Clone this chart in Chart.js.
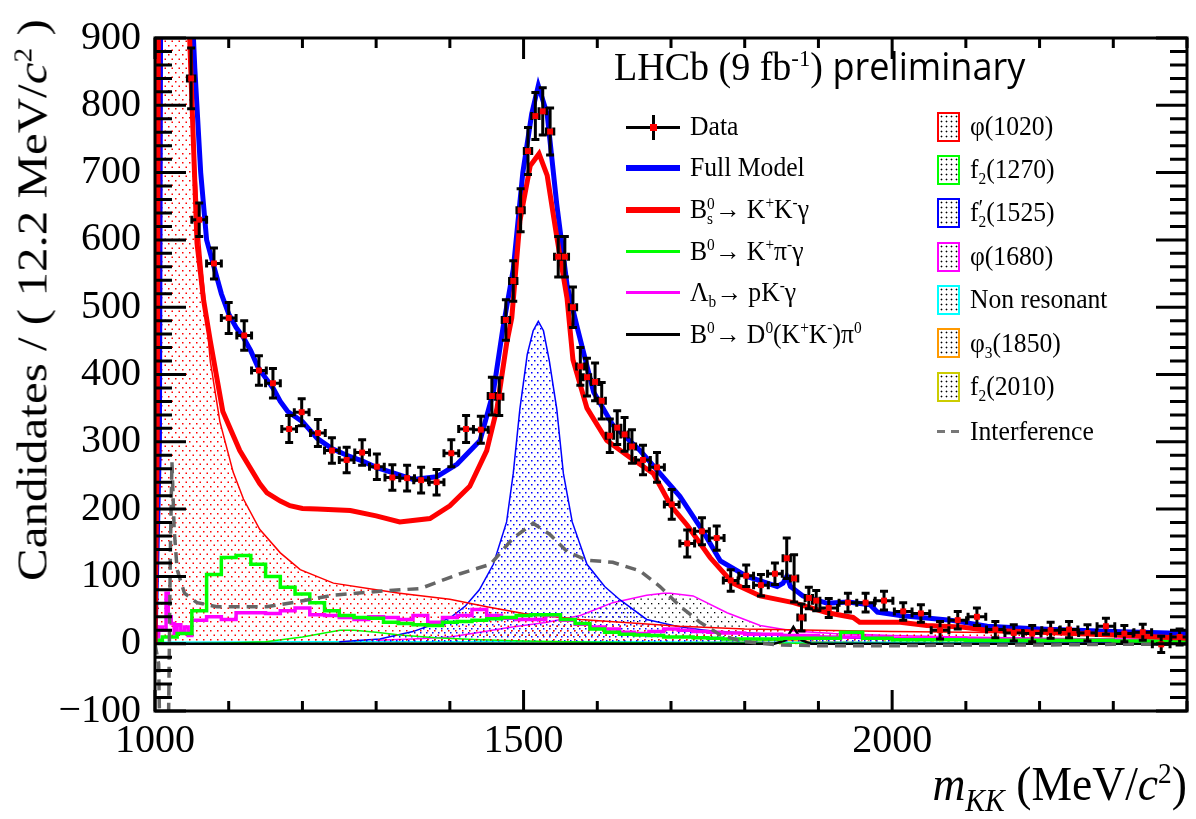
<!DOCTYPE html>
<html>
<head>
<meta charset="utf-8">
<script src="https://cdn.jsdelivr.net/npm/chart.js@4.4.1/dist/chart.umd.min.js"></script>
<style>
  body { margin: 0; background: #fff; }
  #wrap { position: relative; width: 1196px; height: 819px; font-family: "Liberation Serif", "Times New Roman", serif; color: #000; }
  #c { position: absolute; left: 0; top: 0; }
  .t { position: absolute; white-space: nowrap; line-height: 1; transform-origin: 0 0; }
  .leg { font-size: 27px; transform: scaleX(0.95); }
  .ss { display: inline-block; vertical-align: -0.4em; font-size: 0.6em; line-height: 0.95; }
  .ss b { display: block; font-weight: normal; }
  sup { font-size: 0.6em; vertical-align: 0.6em; line-height: 0; }
  .ln { position: absolute; left: 626px; width: 54px; }
  .box { position: absolute; left: 937px; width: 19px; height: 26px; border: 2px solid;
         background-image: radial-gradient(circle, #000 0.8px, transparent 1.1px); background-size: 5px 5px; }
</style>
</head>
<body>
<div id="wrap">
  <canvas id="c" width="1196" height="819"></canvas>

  <!-- experiment label -->
  <div class="t" style="left:614px; top:46px; font-size:40px; transform:scaleX(0.95)">LHCb (9 fb<sup>-1</sup>) <span style="font-family:'Open Sans',sans-serif; font-size:38px">preliminary</span></div>

  <!-- left legend column: lines -->
  <div class="ln" style="top:126px; height:3px; background:#000"></div>
  <div class="ln" style="top:115px; left:652px; width:3px; height:25px; background:#000"></div>
  <div class="ln" style="top:124px; left:650px; width:7px; height:7px; background:#f00"></div>
  <div class="ln" style="top:165px; height:6px; background:#00f"></div>
  <div class="ln" style="top:207px; height:6px; background:#f00"></div>
  <div class="ln" style="top:250px; height:3px; background:#0f0"></div>
  <div class="ln" style="top:291px; height:3px; background:#f0f"></div>
  <div class="ln" style="top:333px; height:3px; background:#000"></div>

  <div class="t leg" style="left:690px; top:113px">Data</div>
  <div class="t leg" style="left:690px; top:154px">Full Model</div>
  <div class="t leg" style="left:690px; top:196px">B<span class="ss"><b>0</b><b>s</b></span>→ K<sup>+</sup>K<sup>-</sup>γ</div>
  <div class="t leg" style="left:690px; top:238px">B<sup>0</sup>→ K<sup>+</sup>π<sup>-</sup>γ</div>
  <div class="t leg" style="left:690px; top:279px">Λ<span class="ss"><b>&nbsp;</b><b>b</b></span>→ pK<sup>-</sup>γ</div>
  <div class="t leg" style="left:690px; top:321px">B<sup>0</sup>→ D<sup>0</sup>(K<sup>+</sup>K<sup>-</sup>)π<sup>0</sup></div>

  <!-- right legend column: filled components -->
  <div class="box" style="top:112px; border-color:#f00"></div>
  <div class="box" style="top:155px; border-color:#0f0"></div>
  <div class="box" style="top:198px; border-color:#00f"></div>
  <div class="box" style="top:242px; border-color:#f0f"></div>
  <div class="box" style="top:285px; border-color:#0ff"></div>
  <div class="box" style="top:328px; border-color:#f90"></div>
  <div class="box" style="top:372px; border-color:#cc0"></div>
  <div class="ln" style="top:430px; left:937px; width:8px; height:3px; background:#777"></div>
  <div class="ln" style="top:430px; left:951px; width:8px; height:3px; background:#777"></div>

  <div class="t leg" style="left:970px; top:113px">φ(1020)</div>
  <div class="t leg" style="left:970px; top:156px">f<span class="ss"><b>&nbsp;</b><b>2</b></span>(1270)</div>
  <div class="t leg" style="left:970px; top:199px">f<span class="ss"><b style="font-size:1.4em; line-height:0.7">′</b><b>2</b></span>(1525)</div>
  <div class="t leg" style="left:970px; top:243px">φ(1680)</div>
  <div class="t leg" style="left:970px; top:286px">Non resonant</div>
  <div class="t leg" style="left:970px; top:330px">φ<span class="ss"><b>&nbsp;</b><b>3</b></span>(1850)</div>
  <div class="t leg" style="left:970px; top:373px">f<span class="ss"><b>&nbsp;</b><b>2</b></span>(2010)</div>
  <div class="t leg" style="left:970px; top:418px">Interference</div>

  <!-- axis titles -->
  <div id="ytitle" class="t" style="font-size:49px">Candidates / ( 12.2 MeV/<i>c</i><sup>2</sup> )</div>
  <div id="xtitle" class="t" style="font-size:48px; right:9px; top:760px; transform-origin:100% 0; transform:scaleX(0.95)"><i>m</i><sub style="font-size:0.65em"><i>KK</i></sub> (MeV/<i>c</i><sup>2</sup>)</div>
</div>

<script>
// Data points: bin centre, candidates, bin half width, error
const dataX  = [1049, 1060, 1080, 1100, 1121, 1141, 1160, 1182, 1199, 1221, 1240, 1260, 1281, 1301, 1322, 1342, 1361, 1382, 1402, 1422, 1442,
                1457, 1467, 1476, 1486, 1496, 1506, 1516, 1526, 1536, 1547, 1556, 1567, 1577, 1586, 1597, 1606, 1617, 1627, 1637, 1647,
                1662, 1681, 1701, 1722, 1742, 1762, 1781, 1802, 1822, 1841, 1857, 1867, 1877, 1887, 1897,
                1914, 1940, 1964, 1989, 2015, 2039, 2065, 2089, 2115, 2140, 2165, 2190, 2215, 2240, 2265, 2290, 2315, 2340, 2365, 2390];
const dataY  = [840, 630, 565, 484, 458, 406, 387, 319, 344, 313, 287, 273, 284, 263, 247, 246, 243, 240, 283, 319, 318,
                368, 367, 481, 539, 644, 732, 784, 791, 761, 575, 575, 500, 412, 396, 389, 361, 309, 321, 311, 293,
                273, 262, 207, 149, 167, 157, 94, 101, 87, 104, 127, 97, 39, 68, 64,
                53, 61, 61, 64, 48, 45, 20, 35, 40, 21, 16, 15, 20, 21, 16, 26, 15, 17, -1, 10];
const dataEx = [5, 10, 10, 10, 10, 10, 10, 10, 10, 10, 10, 10, 10, 10, 10, 10, 10, 10, 10, 10, 10,
                5, 5, 5, 5, 5, 5, 5, 5, 5, 5, 5, 5, 5, 5, 5, 5, 5, 5, 5, 5,
                10, 10, 10, 10, 10, 10, 10, 10, 10, 10, 5, 5, 5, 5, 5,
                12, 12, 12, 12, 12, 12, 12, 12, 12, 12, 12, 12, 12, 12, 12, 12, 12, 12, 12, 12];
const dataEy = [45, 25, 23, 23, 22, 22, 22, 20, 20, 20, 19, 19, 19, 19, 19, 19, 19, 19, 20, 20, 20,
                28, 28, 30, 30, 32, 35, 35, 35, 35, 30, 30, 30, 28, 28, 28, 27, 25, 25, 25, 25,
                22, 22, 22, 20, 20, 18, 16, 16, 16, 16, 30, 35, 20, 16, 15,
                14, 14, 14, 14, 13, 13, 13, 13, 13, 12, 12, 12, 12, 12, 12, 12, 12, 12, 12, 12];

// Full fit model
const fullX = [1000, 1006, 1009, 1012, 1040, 1048, 1054, 1062, 1070, 1080, 1090, 1100, 1110, 1120, 1130, 1140, 1150, 1160, 1170, 1180,
               1200, 1220, 1240, 1260, 1280, 1300, 1320, 1350, 1382, 1410, 1441, 1459, 1472, 1486, 1499, 1511, 1520, 1532, 1545, 1559,
               1573, 1595, 1621, 1658, 1685, 1712, 1744, 1767, 1803, 1844, 1852, 1857, 1862, 1879, 1912, 1940, 1970, 1980, 2011, 2079,
               2129, 2200, 2300, 2400];
const fullY = [0, 300, 1500, 2500, 1400, 1000, 855, 700, 600, 560, 520, 490, 470, 455, 435, 410, 395, 380, 360, 345,
               330, 305, 290, 280, 272, 262, 255, 244, 248, 267, 302, 374, 469, 556, 700, 787, 829, 787, 653, 533,
               469, 374, 325, 287, 253, 219, 166, 123, 100, 85, 90, 100, 85, 71, 60, 62, 58, 47, 42, 35,
               26, 22, 18, 15];

// Bs -> K+ K- gamma signal
const bsX = [1000, 1003, 1006, 1009, 1040, 1047, 1057, 1066, 1075, 1092, 1115, 1142, 1152, 1170, 1183, 1200, 1220, 1265, 1300, 1332,
             1373, 1400, 1427, 1450, 1464, 1477, 1484, 1495, 1509, 1521, 1532, 1545, 1559, 1567, 1586, 1613, 1644, 1676, 1700, 1722,
             1753, 1784, 1821, 1866, 1912, 1947, 1956, 2011, 2047, 2092, 2129, 2200, 2300, 2400];
const bsY = [0, 300, 1500, 2500, 1300, 900, 595, 510, 450, 345, 287, 238, 224, 212, 205, 201, 200, 198, 190, 181,
             186, 205, 234, 287, 350, 446, 484, 628, 710, 728, 696, 605, 513, 422, 350, 302, 277, 253, 205, 176,
             128, 90, 71, 61, 46, 39, 32, 32, 27, 25, 20, 17, 13, 8];

// B0 -> K+ pi- gamma background (histogram)
const kpiX = [1000, 1010, 1030, 1050, 1070, 1090, 1110, 1130, 1150, 1170, 1190, 1210, 1230, 1250, 1270, 1290, 1310, 1330, 1350, 1370,
              1390, 1410, 1430, 1450, 1470, 1490, 1510, 1530, 1550, 1570, 1590, 1610, 1630, 1650, 1670, 1690, 1710, 1730, 1750, 1770,
              1790, 1810, 1850, 1900, 1930, 1960, 2000, 2100, 2200, 2300, 2400];
const kpiY = [5, 10, 15, 49, 103, 128, 131, 118, 100, 84, 74, 61, 49, 42, 39, 38, 32, 30, 28, 27,
              32, 33, 35, 37, 39, 42, 43, 43, 36, 30, 22, 17, 14, 13, 12, 10, 10, 9, 8, 7,
              7, 7, 8, 8, 17, 8, 6, 5, 5, 4, 4];

// Lambda_b -> p K- gamma background (histogram)
const lbX = [1000, 1005, 1010, 1015, 1018, 1022, 1026, 1030, 1035, 1040, 1045, 1050, 1070, 1090, 1110, 1130, 1150, 1170, 1190, 1210,
             1230, 1250, 1270, 1290, 1310, 1330, 1350, 1370, 1390, 1410, 1430, 1450, 1470, 1490, 1510, 1530, 1550, 1570, 1590, 1610,
             1630, 1650, 1670, 1690, 1710, 1730, 1750, 1770, 1800, 1850, 1900, 2000, 2100, 2200, 2300, 2400];
const lbY = [10, 25, 20, 75, 40, 30, 15, 28, 18, 25, 12, 35, 40, 36, 46, 46, 45, 49, 53, 43,
             42, 39, 36, 40, 39, 36, 42, 32, 39, 42, 51, 42, 38, 36, 36, 42, 35, 29, 25, 22,
             17, 15, 18, 22, 20, 18, 17, 16, 14, 12, 10, 8, 7, 6, 5, 4];

// B0 -> D0(K+K-) pi0 background
const d0X = [1000, 1840, 1855, 1866, 1877, 1890, 2400];
const d0Y = [0, 0, 5, 25, 5, 0, 0];

// Resonant components
const phi1020X = [1000, 1003, 1007, 1012, 1020, 1030, 1040, 1046, 1050, 1061, 1075, 1088, 1106, 1120, 1142, 1170, 1197, 1242, 1300, 1332,
                  1400, 1450, 1500, 1577, 1712, 1800, 1900, 2000, 2200, 2400];
const phi1020Y = [0, 200, 1200, 3000, 9000, 3000, 1200, 900, 800, 595, 420, 330, 255, 215, 170, 135, 110, 90, 80, 75,
                  66, 55, 45, 36, 26, 22, 20, 18, 16, 15];
const f1270X = [1050, 1100, 1150, 1200, 1230, 1251, 1270, 1300, 1332, 1380, 1441, 1500, 1600, 1700, 1800, 2000, 2400];
const f1270Y = [0, 1, 3, 10, 16, 20, 20, 17, 13, 9, 6, 4, 2, 1, 1, 0, 0];
const f1525X = [1250, 1305, 1350, 1373, 1400, 1421, 1440, 1459, 1477, 1486, 1495, 1505, 1513, 1520, 1527, 1535, 1545, 1554, 1566, 1586,
                1610, 1631, 1667, 1712, 1760, 1820, 1866, 1950, 2100, 2250, 2400];
const f1525Y = [3, 7, 18, 27, 38, 56, 80, 118, 181, 253, 349, 430, 465, 479, 465, 420, 349, 253, 181, 118,
                85, 65, 36, 25, 18, 15, 13, 8, 5, 3, 2];
const phi1680X = [1300, 1350, 1400, 1441, 1480, 1532, 1577, 1621, 1667, 1690, 1699, 1730, 1776, 1821, 1866, 1920, 2000, 2092, 2200, 2300, 2400];
const phi1680Y = [5, 7, 10, 17, 24, 32, 42, 61, 72, 75, 75, 71, 46, 27, 19, 15, 12, 10, 8, 7, 6];
const nonresX = [1000, 1200, 1400, 1600, 1800, 2000, 2200, 2400];
const nonresY = [2, 3, 3, 3, 2, 2, 1, 1];
const phi1850X = [1000, 1700, 1800, 1850, 1900, 2000, 2400];
const phi1850Y = [0, 1, 3, 5, 3, 1, 0];
const f2010X = [1000, 1800, 1950, 2010, 2070, 2200, 2400];
const f2010Y = [0, 0, 2, 4, 2, 1, 0];

// Interference term
const interfX = [1000, 1005, 1010, 1015, 1018, 1021, 1023, 1026, 1030, 1040, 1057, 1084, 1152, 1197, 1242, 1305, 1360, 1414, 1455, 1486,
                 1513, 1536, 1559, 1586, 1621, 1658, 1685, 1712, 1739, 1767, 1798, 1850, 1900, 2000, 2100, 2200, 2300, 2400];
const interfY = [0, -30, -400, -600, -150, 150, 270, 170, 110, 75, 61, 55, 55, 63, 72, 78, 82, 104, 118, 157,
                 179, 162, 137, 124, 121, 108, 85, 56, 32, 13, 3, -2, -3, -3, -2, -2, -1, -1];

const xTicks = [1000, 1500, 2000];
const yTicks = [-100, 0, 100, 200, 300, 400, 500, 600, 700, 800, 900];

const pts = (xs, ys) => xs.map((x, i) => ({ x: x, y: ys[i] }));

const canvas = document.getElementById('c');
const ctx = canvas.getContext('2d');

// small dotted fill patterns
function dots(color, w, h, s) {
  const c = document.createElement('canvas');
  c.width = w; c.height = h;
  const g = c.getContext('2d');
  g.fillStyle = color;
  g.fillRect(0, 0, s, s);
  g.fillRect(w / 2, h / 2, s, s);
  return ctx.createPattern(c, 'repeat');
}
const redDots = dots('#ff0000', 7, 9, 1.5);
const blueDots = dots('#0000ff', 6, 8, 1.5);
const blackDots = dots('#000000', 7, 9, 1.3);

function curve(label, xs, ys, color, width, extra) {
  return Object.assign({
    label: label, data: pts(xs, ys), borderColor: color, borderWidth: width,
    pointRadius: 0, tension: 0, fill: false
  }, extra || {});
}

// error bars under the data markers
const errorBars = {
  id: 'errorBars',
  beforeDatasetDraw(chart, args) {
    if (args.index !== 0) return;
    const { ctx, chartArea: a, scales: { x, y } } = chart;
    ctx.save();
    ctx.beginPath();
    ctx.rect(a.left, a.top, a.right - a.left, a.bottom - a.top);
    ctx.clip();
    ctx.strokeStyle = '#000';
    ctx.lineWidth = 3;
    ctx.beginPath();
    dataX.forEach((xv, i) => {
      const px = x.getPixelForValue(xv), py = y.getPixelForValue(dataY[i]);
      const x0 = x.getPixelForValue(xv - dataEx[i]), x1 = x.getPixelForValue(xv + dataEx[i]);
      const y0 = y.getPixelForValue(dataY[i] - dataEy[i]), y1 = y.getPixelForValue(dataY[i] + dataEy[i]);
      ctx.moveTo(x0, py); ctx.lineTo(x1, py);
      ctx.moveTo(px, y0); ctx.lineTo(px, y1);
      ctx.moveTo(px - 4, y0); ctx.lineTo(px + 4, y0);
      ctx.moveTo(px - 4, y1); ctx.lineTo(px + 4, y1);
      ctx.moveTo(x0, py - 4); ctx.lineTo(x0, py + 4);
      ctx.moveTo(x1, py - 4); ctx.lineTo(x1, py + 4);
    });
    ctx.stroke();
    ctx.restore();
  }
};

// box frame with inward ticks on all four sides
const frame = {
  id: 'frame',
  afterDraw(chart) {
    const { ctx, chartArea: a, scales: { x, y } } = chart;
    ctx.save();
    ctx.strokeStyle = '#000';
    ctx.lineWidth = 3;
    ctx.strokeRect(a.left, a.top, a.right - a.left, a.bottom - a.top);
    ctx.beginPath();
    for (let v = 1000; v <= 2400; v += 100) {
      const px = x.getPixelForValue(v);
      const len = v % 500 === 0 ? 21 : 10;
      ctx.moveTo(px, a.bottom); ctx.lineTo(px, a.bottom - len);
      ctx.moveTo(px, a.top); ctx.lineTo(px, a.top + len);
    }
    for (let v = -100; v <= 900; v += 20) {
      const py = y.getPixelForValue(v);
      const len = v % 100 === 0 ? 31 : 17;
      ctx.moveTo(a.left, py); ctx.lineTo(a.left + len, py);
      ctx.moveTo(a.right, py); ctx.lineTo(a.right - len, py);
    }
    ctx.stroke();
    ctx.restore();
  }
};

const tickFont = { family: 'Liberation Serif', size: 40 };

new Chart(ctx, {
  type: 'line',
  data: {
    datasets: [
      { label: 'Data', data: pts(dataX, dataY), showLine: false, pointStyle: 'rect', pointRadius: 4.2,
        pointBackgroundColor: '#ff0000', pointBorderWidth: 0 },
      curve('Bs to KKgamma', bsX, bsY, '#ff0000', 5),
      curve('Full Model', fullX, fullY, '#0000ff', 5),
      curve('Interference', interfX, interfY, '#666666', 3.5, { borderDash: [11, 7] }),
      curve('B0 to Kpigamma', kpiX, kpiY, '#00ff00', 3.5, { stepped: true }),
      curve('Lb to pKgamma', lbX, lbY, '#ff00ff', 3.5, { stepped: true }),
      curve('B0 to D0pi0', d0X, d0Y, '#000000', 2.5),
      curve('phi(1020)', phi1020X, phi1020Y, '#ff0000', 1.5, { fill: 'origin', backgroundColor: redDots }),
      curve('f2(1270)', f1270X, f1270Y, '#00ff00', 1.5, { fill: 'origin', backgroundColor: blackDots }),
      curve("f'2(1525)", f1525X, f1525Y, '#0000ff', 1.5, { fill: 'origin', backgroundColor: blueDots }),
      curve('phi(1680)', phi1680X, phi1680Y, '#ff00ff', 1.5, { fill: 'origin', backgroundColor: blackDots }),
      curve('Non resonant', nonresX, nonresY, '#00ffff', 1.5),
      curve('phi3(1850)', phi1850X, phi1850Y, '#ff9900', 1.5),
      curve('f2(2010)', f2010X, f2010Y, '#cccc00', 2.5, { borderDash: [3, 5] })
    ]
  },
  options: {
    responsive: false,
    animation: false,
    layout: { padding: { top: 19, right: 9, left: 0, bottom: 0 } },
    plugins: { legend: { display: false }, tooltip: { enabled: false } },
    scales: {
      x: {
        type: 'linear', min: 1000, max: 2400,
        grid: { display: false, drawTicks: false }, border: { display: false },
        afterBuildTicks: s => { s.ticks = xTicks.map(v => ({ value: v })); },
        afterFit: s => { s.height = 108; },
        ticks: { font: tickFont, color: '#000', padding: 6, maxRotation: 0, autoSkip: false,
                 callback: v => String(v) }
      },
      y: {
        min: -100, max: 900,
        grid: { display: false, drawTicks: false }, border: { display: false },
        afterBuildTicks: s => { s.ticks = yTicks.map(v => ({ value: v })); },
        afterFit: s => { s.width = 155; },
        ticks: { font: tickFont, color: '#000', padding: 14, autoSkip: false,
                 callback: v => v < 0 ? '\u2212' + Math.abs(v) : String(v) }
      }
    }
  },
  plugins: [errorBars, frame]
});

// y title: rotated, right-aligned to the top of the axis
const yt = document.getElementById('ytitle');
const w = yt.offsetWidth;
yt.style.left = '12px';
yt.style.top = (19 + w) + 'px';
yt.style.transform = 'rotate(-90deg) scaleY(0.85)';
</script>
</body>
</html>
